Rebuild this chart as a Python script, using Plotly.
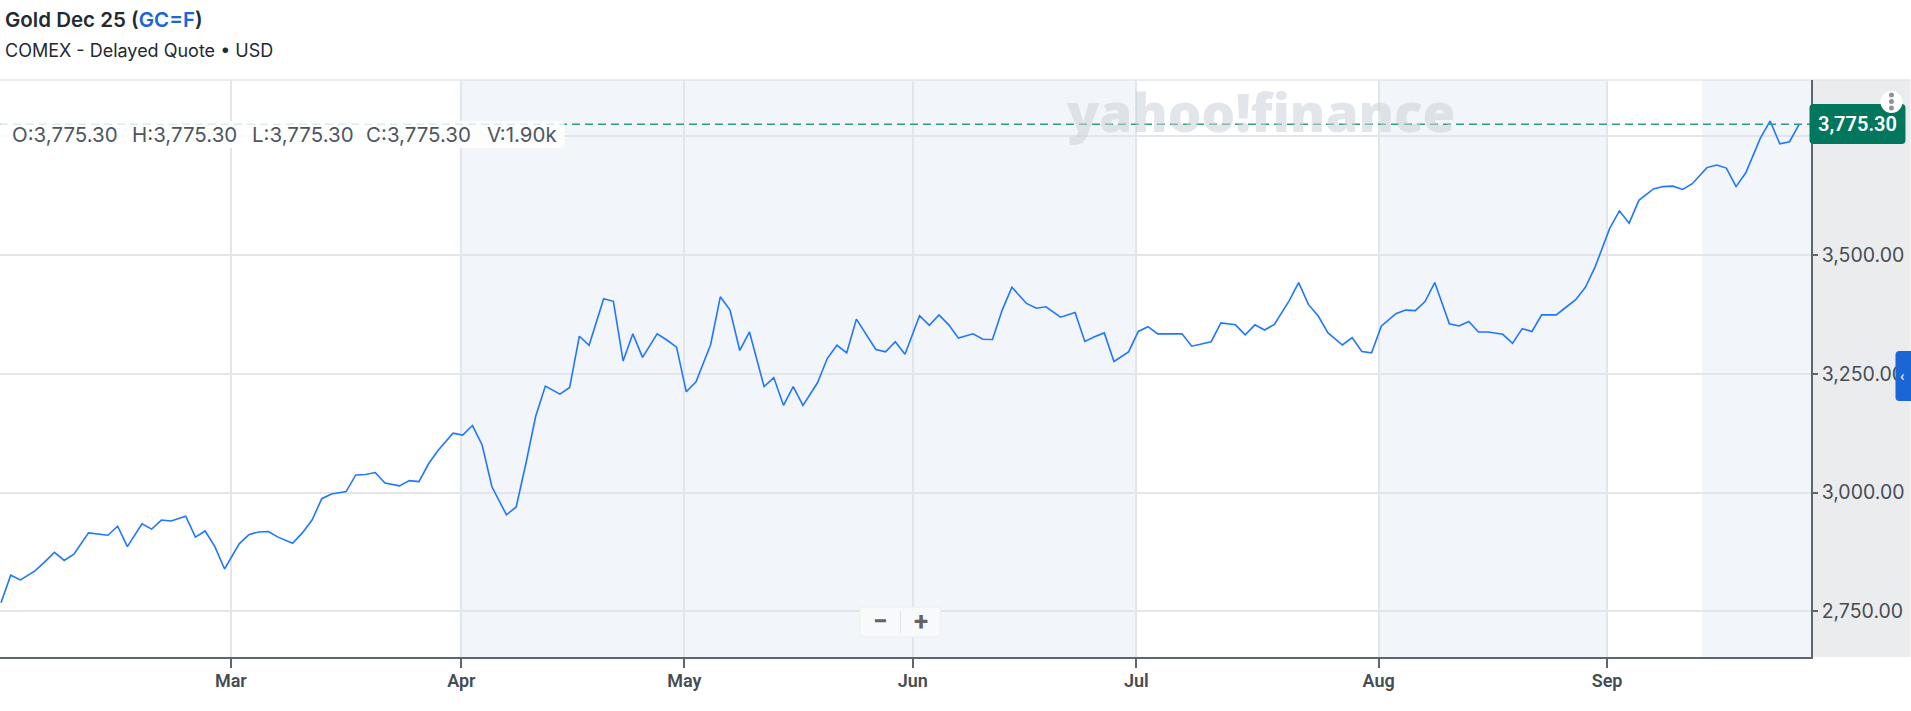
import pandas as pd
import plotly.graph_objects as go

# ---------- data ----------
YEAR = "2025"
jan_feb_days = ["01-29","01-30","01-31","02-03","02-04","02-05","02-06","02-07","02-10","02-11","02-12","02-13","02-14",
                "02-18","02-19","02-20","02-21","02-24","02-25","02-26","02-27","02-28"]
jan_feb_vals = [2768,2826,2816,2835,2854,2874,2857,2870,2915,2913,2910,2929,2886,
                2934,2923,2942,2940,2950,2906,2919,2886,2839]
mar_days = ["03-03","03-04","03-05","03-06","03-07","03-10","03-11","03-12","03-13","03-14","03-17","03-18","03-19",
            "03-20","03-21","03-24","03-25","03-26","03-27","03-28","03-31"]
mar_vals = [2892,2911,2917,2918,2906,2893,2915,2942,2987,2997,3002,3037,3038,
            3042,3020,3014,3025,3023,3061,3089.5,3125]
apr_days = ["04-01","04-02","04-03","04-04","04-07","04-08","04-09","04-10","04-11","04-14","04-15","04-16","04-17",
            "04-21","04-22","04-23","04-24","04-25","04-28","04-29","04-30"]
apr_vals = [3121,3141,3100,3012,2953,2969.5,3061,3160,3224,3207,3221,3329,3310,
            3408,3402.5,3277,3334,3284.5,3334,3321,3306]
may_days = ["05-01","05-02","05-05","05-06","05-07","05-08","05-09","05-12","05-13","05-14","05-15","05-16","05-19",
            "05-20","05-21","05-22","05-23","05-27","05-28","05-29","05-30"]
may_vals = [3212,3233,3311,3412,3384,3299,3338,3223,3242,3183.5,3223,3183.5,3231,
            3282,3310,3294,3365,3301,3296,3317.5,3291]
jun_days = ["06-02","06-03","06-04","06-05","06-06","06-09","06-10","06-11","06-12","06-13","06-16","06-17","06-18",
            "06-20","06-23","06-24","06-25","06-26","06-27","06-30"]
jun_vals = [3372,3352,3374,3353,3325,3334,3322.5,3322,3384,3432,3398,3388,3391,
            3369,3379,3318,3328,3336,3276,3296]
jul_days = ["07-01","07-02","07-03","07-04","07-07","07-08","07-09","07-10","07-11","07-14","07-15","07-16","07-17",
            "07-18","07-21","07-22","07-23","07-24","07-25","07-28","07-29","07-30","07-31"]
jul_vals = [3339,3349,3334,3334,3334,3308,3313,3317.5,3357,3353,3332,3353,3342,
            3354,3403,3442,3396,3372,3336.5,3310.5,3326,3297,3294]
aug_days = ["08-01","08-04","08-05","08-06","08-07","08-08","08-11","08-12","08-13","08-14","08-15","08-18","08-19",
            "08-20","08-21","08-22","08-25","08-26","08-27","08-28","08-29"]
aug_vals = [3350,3376.5,3384,3383,3402,3442,3355,3350.5,3360,3338,3338,3333,3314,
            3345,3339,3374,3374,3390,3406,3432,3475]
sep_days = ["09-02","09-03","09-04","09-05","09-08","09-09","09-10","09-11","09-12","09-15","09-16","09-17","09-18",
            "09-19","09-22","09-23","09-24","09-25","09-26"]
sep_vals = [3556,3593,3567,3615,3639,3644,3645,3638,3650,3684,3689.5,3683,3644,
            3673,3746,3782,3734,3738.5,3775.3]

days = jan_feb_days + mar_days + apr_days + may_days + jun_days + jul_days + aug_days + sep_days
closes = jan_feb_vals + mar_vals + apr_vals + may_vals + jun_vals + jul_vals + aug_vals + sep_vals
assert len(days) == len(closes)
dates = [f"{YEAR}-{d}" for d in days]

month_labels = ["Mar", "Apr", "May", "Jun", "Jul", "Aug", "Sep"]
month_ticks = ["2025-02-28 15:30", "2025-03-31 20:40", "2025-04-30 19:00", "2025-05-30 19:00",
               "2025-06-30 19:10", "2025-07-31 17:30", "2025-09-01 17:30"]
price_ticks = [2750, 3000, 3250, 3500, 3750]
price_labels = ["2,750.00", "3,000.00", "3,250.00", "3,500.00", ""]
last_price = 3775.30
x_start, x_end = "2025-01-28 21:30", "2025-09-27 05:00"

# ---------- page geometry ----------
W, H = 1911, 711
L, R, T, B = 0, 1811.5, 80, 657
px = lambda x: (x - L) / (R - L)
py = lambda y: (B - y) / (B - T)


def rounded(x0, y0, x1, y1, r):
    a, b, c, d = px(x0), px(x1), py(y0), py(y1)
    rx, ry = r / (R - L), r / (B - T)
    return (f"M{a+rx},{c} L{b-rx},{c} Q{b},{c} {b},{c-ry} L{b},{d+ry} Q{b},{d} {b-rx},{d} "
            f"L{a+rx},{d} Q{a},{d} {a},{d+ry} L{a},{c-ry} Q{a},{c} {a+rx},{c} Z")


def box(x0, y0, x1, y1, fill, layer="above"):
    return dict(type="rect", xref="paper", yref="paper", x0=px(x0), x1=px(x1), y0=py(y0), y1=py(y1),
                fillcolor=fill, line_width=0, layer=layer)


def round_box(x0, y0, x1, y1, r, fill, line=None, layer="above"):
    return dict(type="path", xref="paper", yref="paper", path=rounded(x0, y0, x1, y1, r), fillcolor=fill,
                line=dict(color=line or "rgba(0,0,0,0)", width=1 if line else 0), layer=layer)


def note(x, y, text, size, color, anchor="left", weight=400, family="Roboto"):
    return dict(xref="paper", yref="paper", x=px(x), y=py(y), text=text, showarrow=False, xanchor=anchor,
                yanchor="middle", font=dict(size=size, color=color, family=family, weight=weight))


# ---------- gaps in the time scale ----------
saturdays = pd.date_range("2025-02-01", "2025-09-20", freq="W-SAT").strftime("%Y-%m-%d").tolist()
special = ["2025-02-15", "2025-04-19", "2025-05-24", "2025-08-30"]
weekend_breaks = [s for s in saturdays if s not in special]
DAY = 86400000
rangebreaks = [
    dict(values=weekend_breaks, dvalue=1.5 * DAY),
    dict(values=["2025-02-15", "2025-04-18", "2025-08-30"], dvalue=2.5 * DAY),
    dict(values=["2025-05-24"], dvalue=2 * DAY),
    dict(values=["2025-06-19"], dvalue=0.5 * DAY),
]

fig = go.Figure(go.Scatter(x=dates, y=closes, mode="lines", line=dict(color="#2176ff", width=1.6), hoverinfo="skip"))

AXIS = "#5f656c"
GRID = "#e2e5ea"
TXT = "#464c54"
BAND = "#f2f5f9"

shapes = [
    box(R, T, W, B, "#ebecee", "below"),
    dict(type="rect", xref="x", yref="paper", x0=month_ticks[1], x1=month_ticks[4], y0=0, y1=1,
         fillcolor=BAND, line_width=0, layer="below"),
    dict(type="rect", xref="x", yref="paper", x0=month_ticks[5], x1=month_ticks[6], y0=0, y1=1,
         fillcolor=BAND, line_width=0, layer="below"),
    dict(type="rect", xref="x", yref="paper", x0="2025-09-14 12:00", x1=x_end, y0=0, y1=1,
         fillcolor=BAND, line_width=0, layer="below"),
    dict(type="line", xref="paper", yref="paper", x0=0, x1=px(W), y0=1, y1=1,
         line=dict(color=GRID, width=1.5), layer="below"),
    dict(type="line", xref="paper", yref="y", x0=0, x1=1, y0=last_price, y1=last_price,
         line=dict(color="#2f9b80", width=1.6, dash="8px,5px"), layer="above"),
    # OHLC strip
    round_box(0, 121, 565, 148, 5, "rgba(255,255,255,0.82)"),
    # zoom control
    round_box(860, 607, 941, 637, 4, "#f8f9fa", "#eceef0"),
    box(900.2, 611, 901.2, 633, "#dfe1e4"),
    # last price tag
    round_box(1810, 104, 1906, 144, 4, "#02775d"),
    # dots menu
    dict(type="circle", xref="paper", yref="paper", x0=px(1881), x1=px(1903), y0=py(91), y1=py(113),
         fillcolor="white", line_width=0, layer="above"),
    dict(type="circle", xref="paper", yref="paper", x0=px(1889.5), x1=px(1894.5), y0=py(92.5), y1=py(97.5),
         fillcolor="#8f9399", line_width=0, layer="above"),
    dict(type="circle", xref="paper", yref="paper", x0=px(1889.5), x1=px(1894.5), y0=py(99), y1=py(104),
         fillcolor="#8f9399", line_width=0, layer="above"),
    dict(type="circle", xref="paper", yref="paper", x0=px(1889.5), x1=px(1894.5), y0=py(105.5), y1=py(110.5),
         fillcolor="#8f9399", line_width=0, layer="above"),
    # blue side tab
    round_box(1896, 351, 1920, 401, 4, "#1a66d6"),
]

OHLC = "#50565e"
annotations = [
    note(3, 20, "Gold Dec 25 (<span style='color:#1a66d6'>GC=F</span>)", 20.5, "#232a31", weight=600, family="Inter"),
    note(3, 50, "COMEX - Delayed Quote • USD", 18, "#232a31", family="Inter"),
    note(1064, 111, "yahoo!finance", 53, "rgba(203,209,216,0.55)", weight=800, family="Open Sans"),
    note(10, 134, "O:3,775.30", 20.5, OHLC, family="Inter"),
    note(130, 134, "H:3,775.30", 20.5, OHLC, family="Inter"),
    note(250, 134, "L:3,775.30", 20.5, OHLC, family="Inter"),
    note(364, 134, "C:3,775.30", 20.5, OHLC, family="Inter"),
    note(485, 134, "V:1.90k", 20.5, OHLC, family="Inter"),
    note(1858, 124, "3,775.30", 20, "white", "center", 600),
    note(880.5, 621, "−", 26, "#616365", "center", 700),
    note(921, 621, "+", 26, "#616365", "center", 700),
    note(1903, 376, "‹", 15, "white", "center", 400),
]

fig.update_layout(
    width=W, height=H, autosize=False, showlegend=False,
    paper_bgcolor="white", plot_bgcolor="rgba(0,0,0,0)",
    margin=dict(l=L, r=W - R, t=T, b=H - B, pad=0),
    shapes=shapes, annotations=annotations,
    xaxis=dict(type="date", range=[x_start, x_end], rangebreaks=rangebreaks,
               tickmode="array", tickvals=month_ticks, ticktext=month_labels,
               ticks="outside", ticklen=9, tickwidth=1.5, tickcolor=AXIS, ticklabelstandoff=-2,
               showgrid=True, gridcolor=GRID, gridwidth=1.5, zeroline=False,
               showline=True, linecolor=AXIS, linewidth=1.5,
               tickfont=dict(family="Roboto", size=18, color=TXT, weight=600)),
    yaxis=dict(side="right", range=[2653.7, 3868.4], tickmode="array", tickvals=price_ticks, ticktext=price_labels,
               ticks="outside", ticklen=5, tickwidth=1.5, tickcolor=AXIS,
               showgrid=True, gridcolor=GRID, gridwidth=1.5, zeroline=False,
               showline=True, linecolor=AXIS, linewidth=1.5,
               tickfont=dict(family="Inter", size=19.5, color=TXT)),
)

fig.write_html("out.html", config=dict(displayModeBar=False),
               post_script="document.body.style.margin='0';document.body.style.overflow='hidden';")
